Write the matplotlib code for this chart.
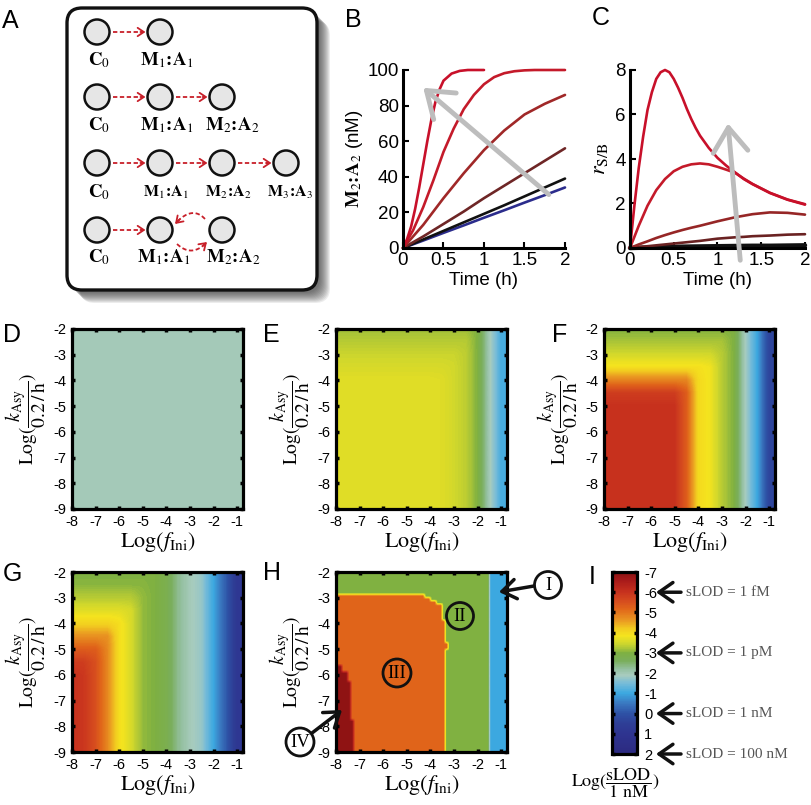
import numpy as np
import matplotlib
matplotlib.use('Agg')
import matplotlib.pyplot as plt
from matplotlib.colors import LinearSegmentedColormap, Normalize
from matplotlib.cm import ScalarMappable
from matplotlib.patches import FancyBboxPatch, Circle
from matplotlib import transforms

plt.rcParams['font.family'] = ['Liberation Sans', 'DejaVu Sans']
plt.rcParams['mathtext.fontset'] = 'stix'
plt.rcParams['axes.unicode_minus'] = False

# ---------------- data ----------------
# Panel B : M2:A2 (nM) versus time (h)
tB_1 = [0, 0.05, 0.1, 0.15, 0.2, 0.25, 0.3, 0.35, 0.4, 0.45, 0.5, 0.6, 0.7, 0.8, 0.9, 1.0]
yB_1 = [0, 5, 12, 22, 34, 47, 60, 72, 82, 89, 94, 98, 99.5, 100, 100, 100]
tB_2 = [0, 0.125, 0.25, 0.375, 0.5, 0.625, 0.75, 0.875, 1.0, 1.125, 1.25, 1.375, 1.5, 1.625, 1.75, 1.875, 2.0]
yB_2 = [0, 10, 23, 38, 54, 67, 78, 86, 92, 96, 98.2, 99.3, 99.8, 100, 100, 100, 100]
tB = [0, 0.25, 0.5, 0.75, 1.0, 1.25, 1.5, 1.75, 2.0]
yB_3 = [0, 13, 28, 42, 55, 66, 75, 81, 86]
yB_4 = [0, 6.5, 13.5, 20.5, 28, 35, 42, 49, 56]
yB_5 = [0, 4.8, 9.6, 14.4, 19.2, 24, 29, 34, 39]
yB_6 = [0, 4.2, 8.5, 12.7, 17, 21.2, 25.5, 29.7, 34]
B_colors = ['#C8102A', '#C41A2A', '#A02828', '#6E2626', '#111111', '#2B2C8C']

# Panel C : r_S/B versus time (h)
tC_1 = [0, 0.05, 0.1, 0.15, 0.2, 0.25, 0.3, 0.35, 0.4, 0.45, 0.5, 0.55, 0.6, 0.65, 0.7, 0.75,
        0.8, 0.9, 1.0, 1.1, 1.2, 1.3, 1.4, 1.6, 1.8, 2.0]
yC_1 = [0, 1.9, 3.6, 5.0, 6.2, 7.0, 7.6, 7.9, 8.0, 7.9, 7.6, 7.2, 6.75, 6.25, 5.8, 5.4,
        5.05, 4.5, 4.05, 3.7, 3.4, 3.1, 2.87, 2.47, 2.17, 1.95]
tC = [0, 0.1, 0.2, 0.3, 0.4, 0.5, 0.6, 0.7, 0.8, 0.9, 1.0, 1.1, 1.2, 1.3, 1.4, 1.6, 1.8, 2.0]
yC_2 = [0, 1.0, 1.9, 2.6, 3.1, 3.45, 3.65, 3.76, 3.8, 3.76, 3.65, 3.52, 3.38, 3.12, 2.88, 2.48, 2.18, 1.97]
yC_3 = [0, 0.16, 0.3, 0.45, 0.58, 0.7, 0.81, 0.91, 1.0, 1.1, 1.2, 1.29, 1.38, 1.45, 1.52, 1.6, 1.58, 1.5]
yC_4 = [0, 0.04, 0.08, 0.12, 0.16, 0.2, 0.24, 0.28, 0.32, 0.37, 0.42, 0.45, 0.48, 0.5, 0.53, 0.56, 0.6, 0.62]
yC_5 = [0, 0.01, 0.02, 0.03, 0.04, 0.05, 0.06, 0.065, 0.07, 0.075, 0.08, 0.085, 0.09, 0.095, 0.1, 0.1, 0.11, 0.12]
C_colors = ['#C8102A', '#C41A2A', '#962626', '#6A2222', '#111111']

# Heat maps : Log(sLOD / 1 nM) on a grid of Log(f_Ini) x Log(k_Asy / 0.2/h)
hm_x = [-8, -7.5, -7, -6.5, -6, -5.5, -5, -4.5, -4, -3.5, -3, -2.5, -2, -1.5, -1]
hm_y = [-2, -2.5, -3, -3.5, -4, -4.5, -5, -5.5, -6, -6.5, -7, -7.5, -8, -8.5, -9]

D_value = -1.95

E_low = [-3.65] * 9 + [-3.62, -3.5, -3.35, -3.0, -2.0, -1.1]
E_grid = [
    [-3.15] * 12 + [-3.0, -2.0, -1.1],
    [-3.3] * 12 + [-3.0, -2.0, -1.1],
    [-3.45] * 11 + [-3.35, -3.0, -2.0, -1.1],
    [-3.55] * 10 + [-3.5, -3.35, -3.0, -2.0, -1.1],
] + [E_low] * 11

F_low = [-6.0] * 7 + [-5.3, -4.0, -3.8, -3.3, -3.0, -1.9, -1.0, 0.3]
F_grid = [
    [-3.0] * 12 + [-1.9, -1.0, 0.3],
    [-3.2] * 11 + [-3.0, -1.9, -1.0, 0.3],
    [-3.5] * 10 + [-3.3, -3.0, -1.9, -1.0, 0.3],
    [-3.9] * 9 + [-3.8, -3.3, -3.0, -1.9, -1.0, 0.3],
    [-4.8] * 8 + [-4.0, -3.8, -3.3, -3.0, -1.9, -1.0, 0.3],
    [-5.8] * 7 + [-5.3, -4.0, -3.8, -3.3, -3.0, -1.9, -1.0, 0.3],
] + [F_low] * 9

G_right = [-3.95, -3.55, -3.1, -3.0, -2.8, -2.3, -1.95, -1.75, -1.0, -0.2, 0.8]
G_low = [-6.0, -5.9, -5.5, -4.8] + G_right
G_grid = [
    [-3.0] * 8 + [-2.8, -2.3, -1.95, -1.75, -1.0, -0.2, 0.8],
    [-3.05] * 7 + [-3.0, -2.8, -2.3, -1.95, -1.75, -1.0, -0.2, 0.8],
    [-3.3] * 6 + [-3.1, -3.0, -2.8, -2.3, -1.95, -1.75, -1.0, -0.2, 0.8],
    [-3.65] * 5 + [-3.55, -3.1, -3.0, -2.8, -2.3, -1.95, -1.75, -1.0, -0.2, 0.8],
    [-4.1] * 4 + G_right,
    [-4.7] * 4 + G_right,
    [-5.3] * 3 + [-4.8] + G_right,
    [-5.8, -5.8, -5.5, -4.8] + G_right,
] + [G_low] * 7

# Panel H : region map (levels and region boundaries)
H_levels = {'I': -1.0, 'II': -3.0, 'III': -5.2, 'IV': -6.9}
H_I_left = -1.47
H_II_bottom = -2.85
H_III_rows_y = [-9, -4.95, -4.7, -3.85, -3.55, -3.3, -3.1, -2.95]
H_III_right = [-3.4, -3.25, -3.4, -3.45, -3.55, -3.7, -3.95, -4.2]
H_IV_rows_y = [-9, -7.8, -6.25, -5.9, -5.6]
H_IV_right = [-7.3, -7.4, -7.5, -7.7, -99]

# colour bar
cb_ticks = [-7, -6, -5, -4, -3, -2, -1, 0, 1, 2]
sLOD_marks = [-6, -3, 0, 2]
sLOD_texts = ['sLOD = 1 fM', 'sLOD = 1 pM', 'sLOD = 1 nM', 'sLOD = 100 nM']

# ---------------- colormap ----------------
cm_nodes = [(-7.0, '#8A1212'), (-6.6, '#A81A1A'), (-6.0, '#C8321E'), (-5.5, '#D8501E'),
            (-5.2, '#E0641A'), (-4.6, '#EA9A22'), (-4.2, '#F2CC20'), (-3.85, '#F5E41E'),
            (-3.5, '#D2D82C'), (-3.2, '#A8C438'), (-3.0, '#7EB042'), (-2.6, '#7AAE5C'),
            (-2.2, '#94C0A0'), (-1.9, '#A8CCBE'), (-1.5, '#78BCD8'), (-1.0, '#3CA8E0'),
            (-0.5, '#3A78C0'), (0.0, '#2E52A6'), (0.5, '#2E3E96'), (1.0, '#2E3490'),
            (2.0, '#2C2A80')]
vmin, vmax = -7.0, 2.0
cmap = LinearSegmentedColormap.from_list(
    'slod', [((v - vmin) / (vmax - vmin), c) for v, c in cm_nodes])
norm = Normalize(vmin, vmax)

# ---------------- figure ----------------
W, H = 812, 805
fig = plt.figure(figsize=(W / 100, H / 100), dpi=100)


def rect(x0, y0, x1, y1):
    return [x0 / W, 1 - y1 / H, (x1 - x0) / W, (y1 - y0) / H]


SANS = ['Liberation Sans', 'DejaVu Sans']
SERIF = ['Liberation Serif', 'DejaVu Serif']


def line_axes(ax, ylim, yticks):
    ax.set_xlim(0, 2)
    ax.set_ylim(*ylim)
    for s in ['top', 'right']:
        ax.spines[s].set_visible(False)
    for s in ['left', 'bottom']:
        ax.spines[s].set_linewidth(2.2)
    ax.set_xticks([0, 0.5, 1, 1.5, 2])
    ax.set_xticklabels(['0', '0.5', '1', '1.5', '2'])
    ax.set_yticks(yticks)
    ax.tick_params(direction='in', length=4, width=1.5, labelsize=13.5, pad=3)
    ax.set_xlabel('Time (h)', fontsize=13.5, labelpad=2)


def pair(i):
    return r'\mathbf{M}_{%d}\!\mathbf{:}\!\mathbf{A}_{%d}' % (i, i)


# Panel B
axB = fig.add_axes(rect(403, 70, 565, 248))
for (t, y), c in zip([(tB_1, yB_1), (tB_2, yB_2), (tB, yB_3), (tB, yB_4), (tB, yB_5), (tB, yB_6)][::-1],
                     B_colors[::-1]):
    axB.plot(t, y, color=c, lw=1.9, clip_on=False, solid_capstyle='round')
line_axes(axB, (0, 100), [0, 20, 40, 60, 80, 100])
axB.set_ylabel('$' + pair(2) + '$ (nM)', fontsize=13.5, labelpad=2)
axB.annotate('', xy=(0.25, 90), xytext=(1.8, 30),
             arrowprops=dict(arrowstyle='->,head_length=0.7,head_width=0.5', lw=3.5,
                             color='#BDBDBD', mutation_scale=25, shrinkA=0, shrinkB=0))

# Panel C
axC = fig.add_axes(rect(630, 70, 805, 248))
for (t, y), c, lw in zip([(tC_1, yC_1), (tC, yC_2), (tC, yC_3), (tC, yC_4), (tC, yC_5)][::-1],
                         C_colors[::-1], [3.2, 1.9, 1.9, 1.9, 1.9]):
    axC.plot(t, y, color=c, lw=lw, clip_on=False, solid_capstyle='round')
line_axes(axC, (0, 8), [0, 2, 4, 6, 8])
axC.set_ylabel(r'$r_{\mathrm{S/B}}$', fontsize=16, labelpad=4)
axC.annotate('', xy=(1.12, 5.6), xytext=(1.26, -0.55), annotation_clip=False,
             arrowprops=dict(arrowstyle='->,head_length=0.7,head_width=0.5', lw=3.5,
                             color='#BDBDBD', mutation_scale=25, shrinkA=0, shrinkB=0,
                             clip_on=False))

# Heat maps
YLAB = r'$\mathrm{Log}(\dfrac{k_{\mathrm{Asy}}}{0.2\,/\,\mathrm{h}})$'
XLAB = r'$\mathrm{Log}(f_{\mathrm{Ini}})$'


def heat_axes(box):
    ax = fig.add_axes(rect(*box))
    ax.set_xlim(-8, -0.75)
    ax.set_ylim(-9, -2)
    ax.set_xticks(range(-8, 0))
    ax.set_yticks(range(-9, -1))
    ax.tick_params(direction='in', length=2.5, width=2.5, top=True, right=True,
                   labelsize=10.5, pad=4)
    for s in ax.spines.values():
        s.set_linewidth(2.3)
    ax.set_xlabel(XLAB, fontsize=16, labelpad=1)
    ax.set_ylabel(YLAB, fontsize=14, labelpad=4)
    return ax


step = 0.5
ext = [hm_x[0] - step / 2, hm_x[-1] + step / 2, hm_y[-1] - step / 2, hm_y[0] + step / 2]

axD = heat_axes((72, 329, 243, 509))
axD.imshow([[D_value]], cmap=cmap, norm=norm, extent=[-8, -0.75, -9, -2], aspect='auto')

for grid, box in [(E_grid, (336, 329, 507, 509)), (F_grid, (604, 329, 775, 509)),
                  (G_grid, (72, 572, 243, 752))]:
    ax = heat_axes(box)
    ax.imshow(np.array(grid), cmap=cmap, norm=norm, extent=ext, origin='upper',
              aspect='auto', interpolation='bilinear', interpolation_stage='data')
    ax.set_xlim(-8, -0.75)
    ax.set_ylim(-9, -2)

# Panel H
axH = heat_axes((336, 572, 507, 752))
cell = 0.125
H_xc = np.arange(-8 + cell / 2, -0.75, cell)
H_yc = np.arange(-9 + cell / 2, -2, cell)
Z = np.full((len(H_yc), len(H_xc)), H_levels['II'])
for i, yv in enumerate(H_yc):
    if yv < H_II_bottom:
        j = np.searchsorted(H_III_rows_y, yv, side='right') - 1
        Z[i, H_xc <= H_III_right[j]] = H_levels['III']
    k = np.searchsorted(H_IV_rows_y, yv, side='right') - 1
    Z[i, H_xc <= H_IV_right[k]] = H_levels['IV']
Z[:, H_xc > H_I_left] = H_levels['I']
axH.imshow(Z, cmap=cmap, norm=norm, origin='lower', extent=[-8, -0.75, -9, -2],
           aspect='auto', interpolation='bilinear', interpolation_stage='data')
axH.set_xlim(-8, -0.75)
axH.set_ylim(-9, -2)

# Colour bar
cax = fig.add_axes(rect(612, 572, 637, 754))
cb = fig.colorbar(ScalarMappable(norm=norm, cmap=cmap), cax=cax)
cb.outline.set_linewidth(2.3)
cb.set_ticks(cb_ticks)
cb.set_ticklabels([str(v) for v in cb_ticks])
cax.invert_yaxis()
cax.tick_params(direction='in', left=True, right=True, length=2.5, width=2.5,
                labelsize=10.5, pad=5)

# ---------------- overlay (schematic, labels, annotations) ----------------
ov = fig.add_axes([0, 0, 1, 1], zorder=10)
ov.set_xlim(0, W)
ov.set_ylim(H, 0)
ov.axis('off')
ov.patch.set_alpha(0)

# panel letters
for lab_, (x, y) in {'A': (10, 21), 'B': (353, 20), 'C': (601, 18), 'D': (12, 335),
                     'E': (271, 335), 'F': (560, 335), 'G': (12, 574), 'H': (272, 573),
                     'I': (592, 577)}.items():
    ov.text(x, y, lab_, fontsize=18, ha='center', va='center', family=SANS)

# schematic box with shadow
bx, by, bw, bh = 67, 8, 250, 282
for d in range(3, 14):
    ov.add_patch(FancyBboxPatch((bx + d, by + d), bw, bh,
                                boxstyle='round,pad=0,rounding_size=15',
                                fc='#303030', ec='none', alpha=0.09, zorder=1))
ov.add_patch(FancyBboxPatch((bx, by), bw, bh, boxstyle='round,pad=0,rounding_size=15',
                            fc='white', ec='#111111', lw=2.4, zorder=2))

RED = '#C8202A'
rows_y = [32, 97, 163, 230]
cols_x = [97, 160, 222, 286]
R = 12.5


def circ(x, y):
    ov.add_patch(Circle((x, y), R, fc='#E6E6E6', ec='#111111', lw=1.8, zorder=4))


def dash_arrow(x0, x1, y):
    ov.plot([x0, x1 - 3], [y, y], color=RED, lw=1.3, ls=(0, (2.4, 1.4)), zorder=4)
    ov.annotate('', xy=(x1, y), xytext=(x1 - 5, y),
                arrowprops=dict(arrowstyle='->,head_length=0.45,head_width=0.3',
                                color=RED, lw=1.3, shrinkA=0, shrinkB=0), zorder=4)


def lab(x, y, s, size=13.5):
    ov.text(x, y, s, fontsize=size, ha='center', va='center', zorder=4)


C0 = r'$\mathbf{C}_{0}$'
n_nodes = [2, 3, 4, 3]
for r, (yc, n) in enumerate(zip(rows_y, n_nodes)):
    for k in range(n):
        circ(cols_x[k], yc)
    if r < 3:
        for k in range(n - 1):
            dash_arrow(cols_x[k] + R + 4, cols_x[k + 1] - R - 2, yc)
    else:
        dash_arrow(cols_x[0] + R + 4, cols_x[1] - R - 2, yc)

ly = [60, 125, 192, 257]
P = lambda i: '$' + pair(i) + '$'
lab(99, ly[0], C0); lab(167, ly[0], P(1))
lab(99, ly[1], C0); lab(167, ly[1], P(1)); lab(232, ly[1], P(2))
lab(99, ly[2], C0); lab(166, ly[2], P(1), 11.5); lab(228, ly[2], P(2), 11.5)
lab(290, ly[2], P(3), 11.5)
lab(99, ly[3], C0); lab(164, ly[3], P(1)); lab(233, ly[3], P(2))


# curved exchange arrows (row 4)
def bez(p0, p1, p2, n=30):
    s = np.linspace(0, 1, n)[:, None]
    return (1 - s) ** 2 * np.array(p0) + 2 * (1 - s) * s * np.array(p1) + s ** 2 * np.array(p2)


top = bez((205, 219), (192, 205), (175, 224))
bot = bez((177, 244), (192, 258), (207, 242))
for curve in (top, bot):
    ov.plot(curve[:-2, 0], curve[:-2, 1], color=RED, lw=1.3, ls=(0, (2.4, 1.4)), zorder=4)
    ov.annotate('', xy=tuple(curve[-1]), xytext=tuple(curve[-5]),
                arrowprops=dict(arrowstyle='->,head_length=0.45,head_width=0.3',
                                color=RED, lw=1.3, shrinkA=0, shrinkB=0), zorder=4)


# H annotations
def roman(x, y, s, r=13.5):
    ov.add_patch(Circle((x, y), r, fc='none', ec='#111111', lw=2.0, zorder=12))
    ov.text(x, y + 0.5, s, fontsize=13.5, ha='center', va='center', family=SERIF, zorder=12)


roman(460, 616, 'II')
roman(397, 673, 'III', 14)
roman(300, 742, 'IV', 14)
roman(548, 585, 'I')
AP = dict(arrowstyle='->,head_length=0.5,head_width=0.35', color='#111111', lw=2.5,
          shrinkA=0, shrinkB=0, mutation_scale=20)
ov.annotate('', xy=(342, 710), xytext=(312, 733), arrowprops=AP)
ov.annotate('', xy=(499, 592), xytext=(534, 586), arrowprops=AP)

# colour bar arrows and texts
btr = transforms.blended_transform_factory(ov.transData, cax.transData)
for v, s in zip(sLOD_marks, sLOD_texts):
    ov.annotate('', xy=(656, v), xytext=(681, v), xycoords=btr, textcoords=btr,
                arrowprops=AP)
    ov.text(686, v, s, transform=btr, fontsize=11, va='center', ha='left',
            family=SERIF, color='#555555')
ov.text(615, 783, r'$\mathrm{Log}(\dfrac{\mathrm{sLOD}}{1\ \mathrm{nM}})$', fontsize=13,
        ha='center', va='center')

fig.savefig('out.png', dpi=100)
